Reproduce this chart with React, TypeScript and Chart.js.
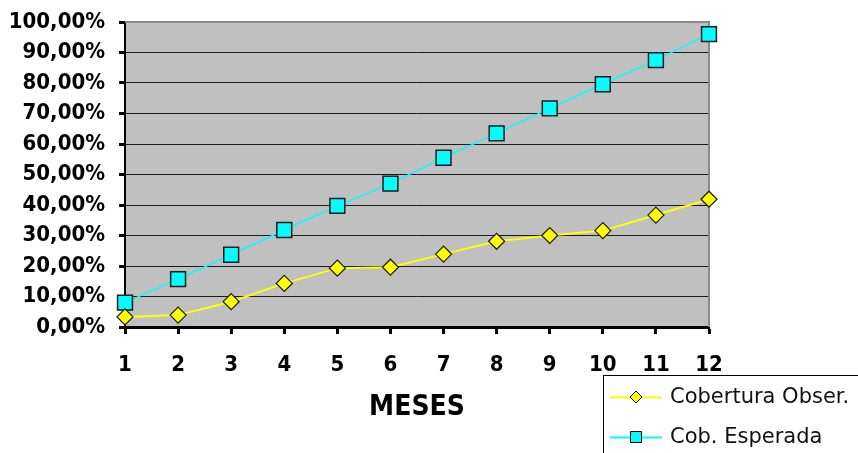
import React, { useEffect, useRef } from 'react';
import { Chart, registerables } from 'chart.js';

Chart.register(...registerables);

const months = ['1', '2', '3', '4', '5', '6', '7', '8', '9', '10', '11', '12'];
const coberturaObser = [3.3, 3.9, 8.3, 14.3, 19.3, 19.6, 23.9, 28.1, 30.0, 31.6, 36.7, 41.9];
const cobEsperada = [8.0, 15.7, 23.7, 31.8, 39.7, 47.0, 55.5, 63.5, 71.7, 79.6, 87.5, 96.0];
const seriesNames = ['Cobertura Obser.', 'Cob. Esperada'];
const xTitle = 'MESES';
const yMin = 0;
const yMax = 100;
const yStep = 10;

const AXIS_FONT = "'DejaVu Sans Condensed', 'DejaVu Sans', sans-serif";

const plotBg = {
  id: 'plotBg',
  beforeDraw(chart: any) {
    const { ctx, chartArea: a } = chart;
    ctx.save();
    ctx.fillStyle = '#ffffff';
    ctx.fillRect(0, 0, chart.width, chart.height);
    ctx.fillStyle = '#c0c0c0';
    ctx.fillRect(a.left, a.top, a.right - a.left, a.bottom - a.top);
    ctx.restore();
  },
  beforeDatasetsDraw(chart: any) {
    const { ctx, chartArea: a } = chart;
    ctx.save();
    ctx.strokeStyle = '#8a8a8a';
    ctx.lineWidth = 2;
    ctx.beginPath();
    ctx.moveTo(a.left, a.top);
    ctx.lineTo(a.right, a.top);
    ctx.lineTo(a.right, a.bottom);
    ctx.stroke();
    ctx.restore();
  },
};

const boxLegend = {
  id: 'boxLegend',
  afterDraw(chart: any) {
    const { ctx } = chart;
    const x0 = 603;
    const y0 = 375;
    ctx.save();
    ctx.fillStyle = '#ffffff';
    ctx.fillRect(x0, y0, chart.width - x0 + 5, chart.height - y0 + 5);
    ctx.strokeStyle = '#000000';
    ctx.lineWidth = 1;
    ctx.strokeRect(x0 + 0.5, y0 + 0.5, chart.width - x0 + 10, chart.height - y0 + 10);
    chart.data.datasets.forEach((ds: any, i: number) => {
      const cy = 397 + i * 40;
      ctx.strokeStyle = ds.borderColor;
      ctx.lineWidth = 2;
      ctx.beginPath();
      ctx.moveTo(610, cy + 0.5);
      ctx.lineTo(662, cy + 0.5);
      ctx.stroke();
      ctx.fillStyle = ds.pointBackgroundColor;
      ctx.strokeStyle = '#000000';
      ctx.lineWidth = 1;
      const cx = 636;
      if (ds.pointStyle === 'rectRot') {
        const r = 6;
        ctx.beginPath();
        ctx.moveTo(cx - r, cy);
        ctx.lineTo(cx, cy - r);
        ctx.lineTo(cx + r, cy);
        ctx.lineTo(cx, cy + r);
        ctx.closePath();
        ctx.fill();
        ctx.stroke();
      } else {
        ctx.beginPath();
        ctx.rect(cx - 5.5, cy - 5.5, 11, 11);
        ctx.fill();
        ctx.stroke();
      }
      ctx.fillStyle = '#111111';
      ctx.font = "21px 'DejaVu Sans', sans-serif";
      ctx.textBaseline = 'middle';
      ctx.textAlign = 'left';
      ctx.fillText(ds.label, 670, cy + 1);
    });
    ctx.restore();
  },
};

export default function App() {
  const canvasRef = useRef<HTMLCanvasElement | null>(null);

  useEffect(() => {
    document.body.style.margin = '0';
    const canvas = canvasRef.current;
    if (!canvas) return;
    const chart = new Chart(canvas, {
      type: 'line',
      data: {
        labels: months,
        datasets: [
          {
            label: seriesNames[0],
            data: coberturaObser,
            borderColor: '#ffff00',
            backgroundColor: '#ffff00',
            borderWidth: 2,
            pointStyle: 'rectRot',
            pointRadius: 8,
            pointBackgroundColor: '#ffff00',
            pointBorderColor: '#1a1a1a',
            pointBorderWidth: 1.2,
            tension: 0,
            clip: false as any,
          },
          {
            label: seriesNames[1],
            data: cobEsperada,
            borderColor: '#00ffff',
            backgroundColor: '#00ffff',
            borderWidth: 1.5,
            pointStyle: 'rect',
            pointRadius: 10.5,
            pointBackgroundColor: '#00ffff',
            pointBorderColor: '#1a1a1a',
            pointBorderWidth: 1.5,
            tension: 0,
            clip: false as any,
          },
        ],
      },
      options: {
        animation: false,
        responsive: true,
        maintainAspectRatio: false,
        layout: { padding: { left: 0, right: 149, top: 22, bottom: 0 } },
        plugins: {
          legend: { display: false },
          tooltip: { enabled: false },
        },
        scales: {
          x: {
            type: 'category',
            offset: false,
            afterFit(scale: any) {
              scale.height = 126;
            },
            grid: {
              display: true,
              drawOnChartArea: false,
              drawTicks: true,
              tickLength: 7,
              tickWidth: 3,
              tickColor: '#000000',
              color: '#000000',
            },
            border: { display: true, color: '#000000', width: 3 },
            ticks: {
              color: '#000000',
              padding: 18,
              maxRotation: 0,
              autoSkip: false,
              font: { family: AXIS_FONT, size: 22, weight: 'bold' },
            },
            title: {
              display: true,
              text: xTitle,
              color: '#000000',
              font: { family: AXIS_FONT, size: 28, weight: 'bold' },
              padding: { top: 0, bottom: 28 },
            },
          },
          y: {
            min: yMin,
            max: yMax,
            afterFit(scale: any) {
              scale.width = 125;
              scale.paddingTop = 0;
              scale.paddingBottom = 0;
            },
            grid: {
              color: '#1a1a1a',
              lineWidth: 1,
              drawTicks: true,
              tickLength: 6,
              tickWidth: 3,
              tickColor: '#000000',
            },
            border: { display: true, color: '#000000', width: 2 },
            ticks: {
              stepSize: yStep,
              color: '#000000',
              padding: 14,
              font: { family: AXIS_FONT, size: 22, weight: 'bold' },
              callback: (v: any) => Number(v).toFixed(2).replace('.', ',') + '%',
            },
          },
        },
      },
      plugins: [plotBg, boxLegend],
    });
    return () => chart.destroy();
  }, []);

  return (
    <div style={{ position: 'fixed', left: 0, top: 0, width: 858, height: 453 }}>
      <canvas ref={canvasRef} />
    </div>
  );
}
